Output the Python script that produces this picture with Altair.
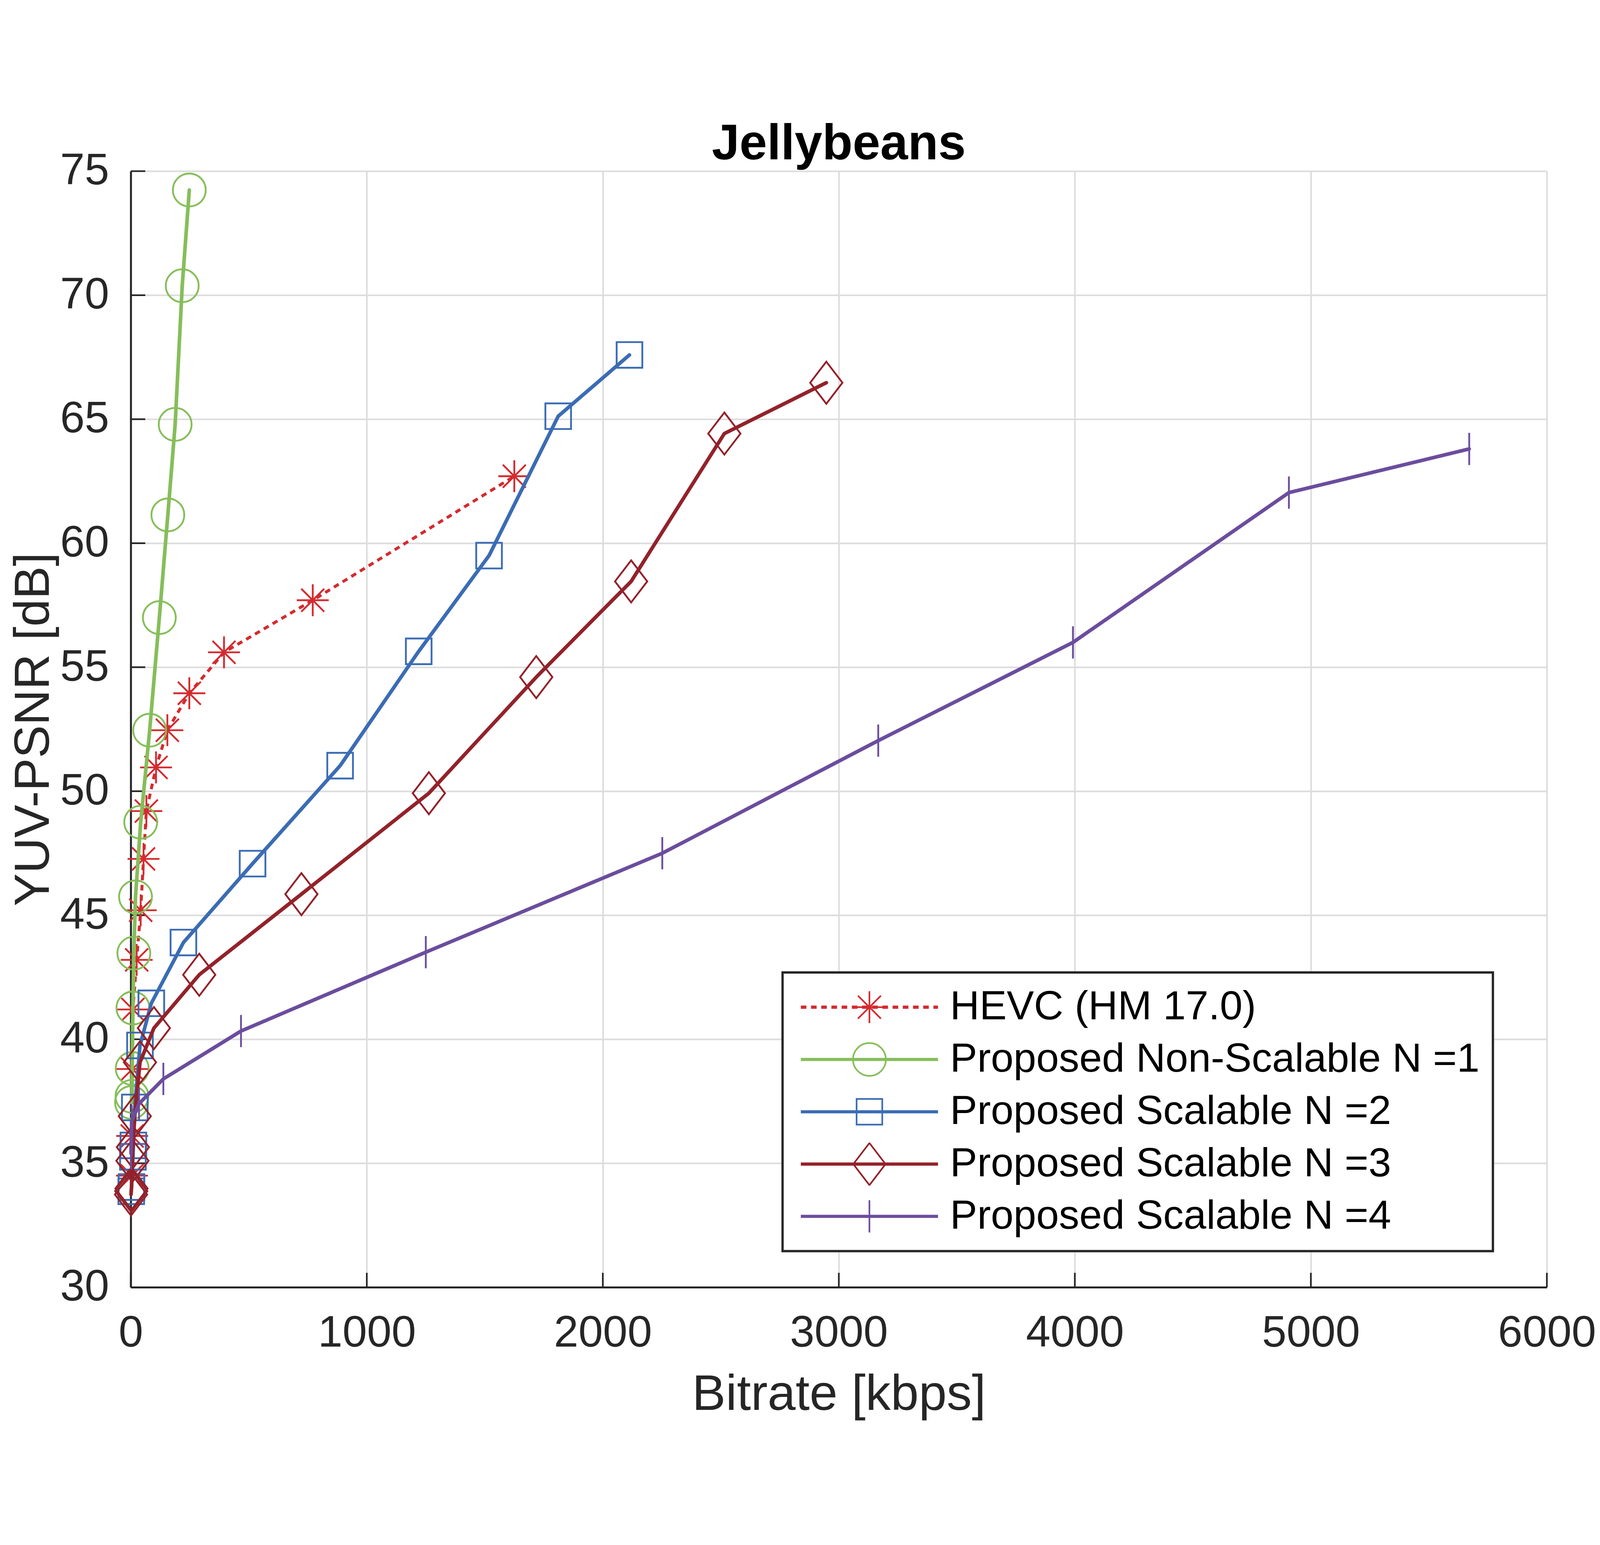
import altair as alt
import pandas as pd

# ---------------- data ----------------
chart_title = ["Jellybeans"]
series_names = [
    "HEVC (HM 17.0)",
    "Proposed Non-Scalable N =1",
    "Proposed Scalable N =2",
    "Proposed Scalable N =3",
    "Proposed Scalable N =4",
]
series_colors = ["#D42B2F", "#86BE5A", "#3B6CB4", "#93222A", "#6B4D9D"]

hevc_kbps = [5, 6, 7, 9, 25, 42, 54, 66, 107, 155, 248, 395, 771, 1625]
hevc_psnr = [34.5, 36.1, 38.8, 41.2, 43.2, 45.2, 47.27, 49.2, 50.96, 52.46, 53.95, 55.6, 57.7, 62.7]

n1_kbps = [3, 5, 6, 9, 13, 20, 42, 80, 121, 157, 188, 218, 248]
n1_psnr = [37.45, 37.7, 38.82, 41.26, 43.47, 45.74, 48.75, 52.46, 57.0, 61.14, 64.79, 70.38, 74.24]

n2_kbps = [2, 3, 9, 11, 17, 39, 87, 223, 516, 887, 1220, 1518, 1811, 2113]
n2_psnr = [33.87, 34.04, 35.26, 35.72, 37.25, 39.75, 41.45, 43.9, 47.08, 51.03, 55.64, 59.5, 65.12, 67.59]

n3_kbps = [1, 2, 3, 7, 9, 17, 39, 98, 290, 723, 1263, 1718, 2120, 2515, 2947]
n3_psnr = [33.74, 33.88, 33.98, 35.1, 35.65, 36.9, 39.07, 40.45, 42.6, 45.85, 49.92, 54.6, 58.46, 64.42, 66.47]

n4_kbps = [1, 2, 4, 35, 138, 467, 1250, 2252, 3167, 3992, 4907, 5671]
n4_psnr = [35.4, 35.9, 36.7, 37.4, 38.4, 40.33, 43.51, 47.5, 52.04, 56.0, 62.04, 63.8]

x_ticks = [0, 1000, 2000, 3000, 4000, 5000, 6000]
y_ticks = [30, 35, 40, 45, 50, 55, 60, 65, 70, 75]

all_kbps = [hevc_kbps, n1_kbps, n2_kbps, n3_kbps, n4_kbps]
all_psnr = [hevc_psnr, n1_psnr, n2_psnr, n3_psnr, n4_psnr]

rows = []
for name, xs, ys in zip(series_names, all_kbps, all_psnr):
    for i, (a, b) in enumerate(zip(xs, ys)):
        rows.append({"series": name, "kbps": a, "psnr": b, "order": i})
df = pd.DataFrame(rows)

# ---------------- styling ----------------
W, H = 4304, 3393
FONT = "Liberation Sans"
AXIS_COLOR = "#262626"

# marker shapes (unit square [-1, 1])
AST = "M-1,0H1M0,-1V1M-0.72,-0.72L0.72,0.72M-0.72,0.72L0.72,-0.72"
DIA = "M0,-1L0.766,0L0,1L-0.766,0Z"
VT = "M0,-1V1"
marker_shapes = [AST, "circle", "square", DIA, VT]
marker_sizes = [9409, 10000, 6084, 16384, 9604]

# legend symbols: line sample + marker, in one path
LHALF = 208.5


def f(v):
    s = ("%.4f" % v).rstrip("0").rstrip(".")
    return "0" if s in ("-0", "") else s


def line_part(dashed):
    offs = [-0.011, 0.0, 0.011]
    parts = []
    for o in offs:
        if dashed:
            d, g = 17 / LHALF, 14 / LHALF
            a = -1.0
            while a < 1.0:
                b = min(a + d, 1.0)
                parts.append("M%s,%sH%s" % (f(a), f(o), f(b)))
                a = a + d + g
        else:
            parts.append("M-1,%sH1" % f(o))
    return "".join(parts)


def ast_part(r):
    k = r / LHALF
    d = 0.72 * k
    return ("M%s,0H%s" % (f(-k), f(k)) + "M0,%sV%s" % (f(-k), f(k)) +
            "M%s,%sL%s,%s" % (f(-d), f(-d), f(d), f(d)) +
            "M%s,%sL%s,%s" % (f(-d), f(d), f(d), f(-d)))


def circ_part(r):
    k = r / LHALF
    return "M%s,0A%s,%s,0,1,1,%s,0A%s,%s,0,1,1,%s,0Z" % (f(k), f(k), f(k), f(-k), f(k), f(k), f(k))


def sq_part(r):
    k = r / LHALF
    return "M%s,%sH%sV%sH%sZ" % (f(-k), f(-k), f(k), f(k), f(-k))


def dia_part(r):
    k = r / LHALF
    w = 0.766 * k
    return "M0,%sL%s,0L0,%sL%s,0Z" % (f(-k), f(w), f(k), f(-w))


def vt_part(r):
    k = r / LHALF
    return "M0,%sV%s" % (f(-k), f(k))


legend_paths = [
    line_part(True) + ast_part(48.5),
    line_part(False) + circ_part(50),
    line_part(False) + sq_part(39),
    line_part(False) + dia_part(64),
    line_part(False) + vt_part(49),
]

x_axis = alt.Axis(
    title="Bitrate [kbps]", values=x_ticks, format="d", grid=True, ticks=False, tickSize=0,
    domain=True, domainColor=AXIS_COLOR, domainWidth=6,
    gridColor="#DDDDDD", gridWidth=5,
    labelFont=FONT, labelFontSize=134, labelColor=AXIS_COLOR, labelPadding=74,
    labelFlush=False, labelOverlap=False, labelLimit=1000,
    titleFont=FONT, titleFontSize=153, titleFontWeight="normal", titleColor=AXIS_COLOR,
    titleBaseline="alphabetic", titleY=372, titleX=W / 2, titleAlign="center",
)
y_axis = alt.Axis(
    title="YUV-PSNR [dB]", values=y_ticks, format="d", grid=True, ticks=False, tickSize=0,
    domain=True, domainColor=AXIS_COLOR, domainWidth=6,
    gridColor="#DDDDDD", gridWidth=5,
    labelFont=FONT, labelFontSize=134, labelColor=AXIS_COLOR, labelPadding=66,
    labelFlush=False, labelOverlap=False, labelLimit=1000,
    titleFont=FONT, titleFontSize=150, titleFontWeight="normal", titleColor=AXIS_COLOR,
    titleBaseline="alphabetic", titleAngle=270, titleX=-250, titleY=H / 2, titleAlign="center",
)

x_scale = alt.Scale(domain=[0, 6000], nice=False, zero=False)
y_scale = alt.Scale(domain=[30, 75], nice=False, zero=False)


def X(field):
    return alt.X(field + ":Q", scale=x_scale, axis=x_axis)


def Y(field):
    return alt.Y(field + ":Q", scale=y_scale, axis=y_axis)


legend = alt.Legend(
    title=None, orient="none", legendX=1981, legendY=2436,
    padding=40, rowPadding=28, clipHeight=131,
    symbolSize=173889, symbolStrokeWidth=5, symbolOffset=13, symbolFillColor="transparent",
    symbolOpacity=1,
    labelOffset=34, labelFont=FONT, labelFontSize=124, labelColor="#000000", labelLimit=5000,
    fillColor="#FFFFFF", strokeColor=AXIS_COLOR,
)

layers = []

# inward tick marks
layers.append(
    alt.Chart(pd.DataFrame({"kbps": x_ticks})).mark_rule(color=AXIS_COLOR, strokeWidth=5).encode(
        x=X("kbps"), y=alt.value(H), y2=alt.value(H - 44)
    )
)
layers.append(
    alt.Chart(pd.DataFrame({"psnr": y_ticks})).mark_rule(color=AXIS_COLOR, strokeWidth=5).encode(
        y=Y("psnr"), x=alt.value(0), x2=alt.value(44)
    )
)

for i, name in enumerate(series_names):
    sub = df[df["series"] == name]
    base = alt.Chart(sub)
    if i == 0:
        line = base.mark_line(color=series_colors[i], strokeWidth=9, strokeDash=[17, 14], strokeCap="butt")
    else:
        line = base.mark_line(color=series_colors[i], strokeWidth=11, strokeCap="round", strokeJoin="round")
    layers.append(line.encode(x=X("kbps"), y=Y("psnr"), order="order:Q"))
    layers.append(
        base.mark_point(filled=False, color=series_colors[i], strokeWidth=5.5, opacity=1,
                        shape=marker_shapes[i], size=marker_sizes[i]).encode(x=X("kbps"), y=Y("psnr"))
    )

# legend-only layer (draws no marks, only provides the legend)
layers.append(
    alt.Chart(df).transform_filter("false").mark_point(filled=False, opacity=1).encode(
        x=X("kbps"), y=Y("psnr"),
        color=alt.Color("series:N", scale=alt.Scale(domain=series_names, range=series_colors), legend=legend),
        shape=alt.Shape("series:N", scale=alt.Scale(domain=series_names, range=legend_paths), legend=legend),
    )
)

# chart title, centred above the plot area
layers.append(
    alt.Chart(pd.DataFrame({"t": chart_title})).mark_text(
        font=FONT, fontSize=151, fontWeight="bold", color="#000000",
        align="center", baseline="alphabetic",
    ).encode(text="t:N", x=alt.value(W / 2), y=alt.value(-36))
)

chart = alt.layer(*layers).properties(
    width=W, height=H,
    autosize=alt.AutoSizeParams(type="none"),
    padding={"left": 388, "top": 142, "right": 152, "bottom": 404},
    background="#FFFFFF",
).configure_view(stroke="transparent")

try:
    trial = chart.configure_legend(strokeWidth=7)
    trial.to_dict()
    chart = trial
except Exception:
    pass

chart.save("out.html", embed_options={"renderer": "svg", "actions": False})
